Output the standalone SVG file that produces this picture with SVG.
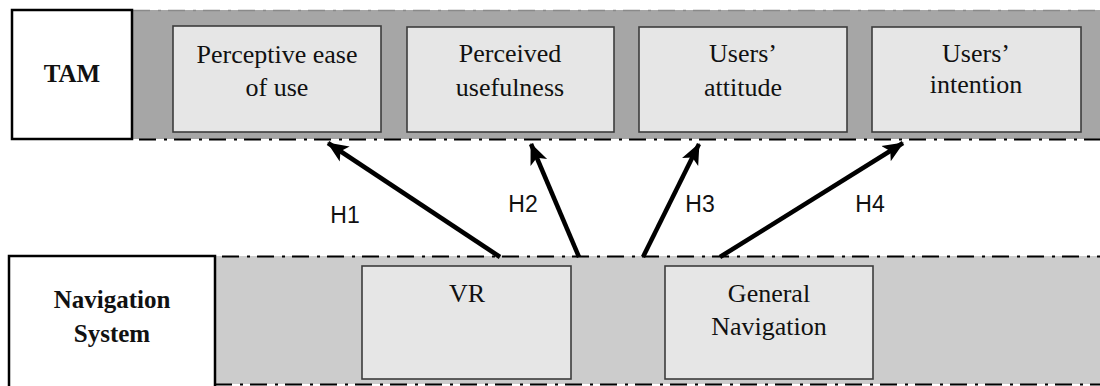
<svg xmlns="http://www.w3.org/2000/svg" width="1100" height="386" viewBox="0 0 1100 386">
<style>
.lbl{fill:#fff;stroke:#000;stroke-width:2.5}
.box{fill:#e6e6e6;stroke:#3c3c3c;stroke-width:1.6}
.dd{stroke:#000;stroke-width:2.2;stroke-dasharray:17 8 3 7;fill:none}
.t{font-family:"Liberation Serif","Times New Roman",serif;font-size:26px;fill:#111;text-anchor:middle}
.b{font-weight:bold;font-size:25px}
.h{font-family:"Liberation Sans",Arial,sans-serif;font-size:23px;fill:#111;text-anchor:middle}
.arr{stroke:#000;stroke-width:4.5;fill:none;marker-end:url(#ah)}
</style>
<defs>
<marker id="ah" markerUnits="userSpaceOnUse" markerWidth="22" markerHeight="20" viewBox="0 0 22 20" refX="20" refY="10" orient="auto">
<path d="M0,1 L21,10 L0,19 L5,10 Z" fill="#000"/>
</marker>
</defs>
<rect width="1100" height="386" fill="#fff"/>
<g id="tam-band">
<rect x="132" y="10" width="968" height="129" fill="#a6a6a6"/>
<line x1="133" y1="10.5" x2="1100" y2="10.5" stroke="#8a8a8a" stroke-width="1.5" stroke-dasharray="17 8 3 7"/>
<line class="dd" x1="139" y1="139.5" x2="1100" y2="139.5"/>
</g>
<g id="tam">
<rect class="lbl" x="12" y="10" width="120" height="129"/>
<text class="t b" x="72" y="82" font-size="24">TAM</text>
</g>
<g id="nav-band">
<rect x="215" y="256" width="885" height="128" fill="#cccccc"/>
<line class="dd" x1="222" y1="256.5" x2="1100" y2="256.5"/>
<line class="dd" x1="215" y1="384.5" x2="1100" y2="384.5"/>
</g>
<g id="nav">
<rect class="lbl" x="9" y="256" width="206" height="132"/>
<text class="t b" x="112" y="308">Navigation</text>
<text class="t b" x="112" y="342">System</text>
</g>
<g id="peou">
<rect class="box" x="173" y="26" width="208" height="106"/>
<text class="t" x="277" y="63">Perceptive ease</text>
<text class="t" x="277" y="96">of use</text>
</g>
<g id="pu">
<rect class="box" x="407" y="27" width="207" height="105"/>
<text class="t" x="510" y="62">Perceived</text>
<text class="t" x="510" y="96">usefulness</text>
</g>
<g id="attitude">
<rect class="box" x="639" y="27" width="208" height="105"/>
<text class="t" x="743" y="62">Users’</text>
<text class="t" x="743" y="96">attitude</text>
</g>
<g id="intention">
<rect class="box" x="872" y="27" width="209" height="105"/>
<text class="t" x="976" y="62" font-size="24">Users’</text>
<text class="t" x="976" y="93" font-size="25">intention</text>
</g>
<g id="vr">
<rect class="box" x="362" y="266" width="209" height="113"/>
<text class="t" x="467" y="302">VR</text>
</g>
<g id="gn">
<rect class="box" x="665" y="266" width="208" height="113"/>
<text class="t" x="769" y="302">General</text>
<text class="t" x="769" y="335">Navigation</text>
</g>
<g id="connectors">
<line class="arr" x1="500" y1="257" x2="328" y2="143"/>
<line class="arr" x1="579" y1="257" x2="531" y2="144"/>
<line class="arr" x1="643" y1="257" x2="699" y2="144"/>
<line class="arr" x1="720" y1="257" x2="903" y2="143"/>
<text class="h" x="345" y="223">H1</text>
<text class="h" x="523" y="212">H2</text>
<text class="h" x="700" y="212">H3</text>
<text class="h" x="870" y="212">H4</text>
</g>
</svg>
